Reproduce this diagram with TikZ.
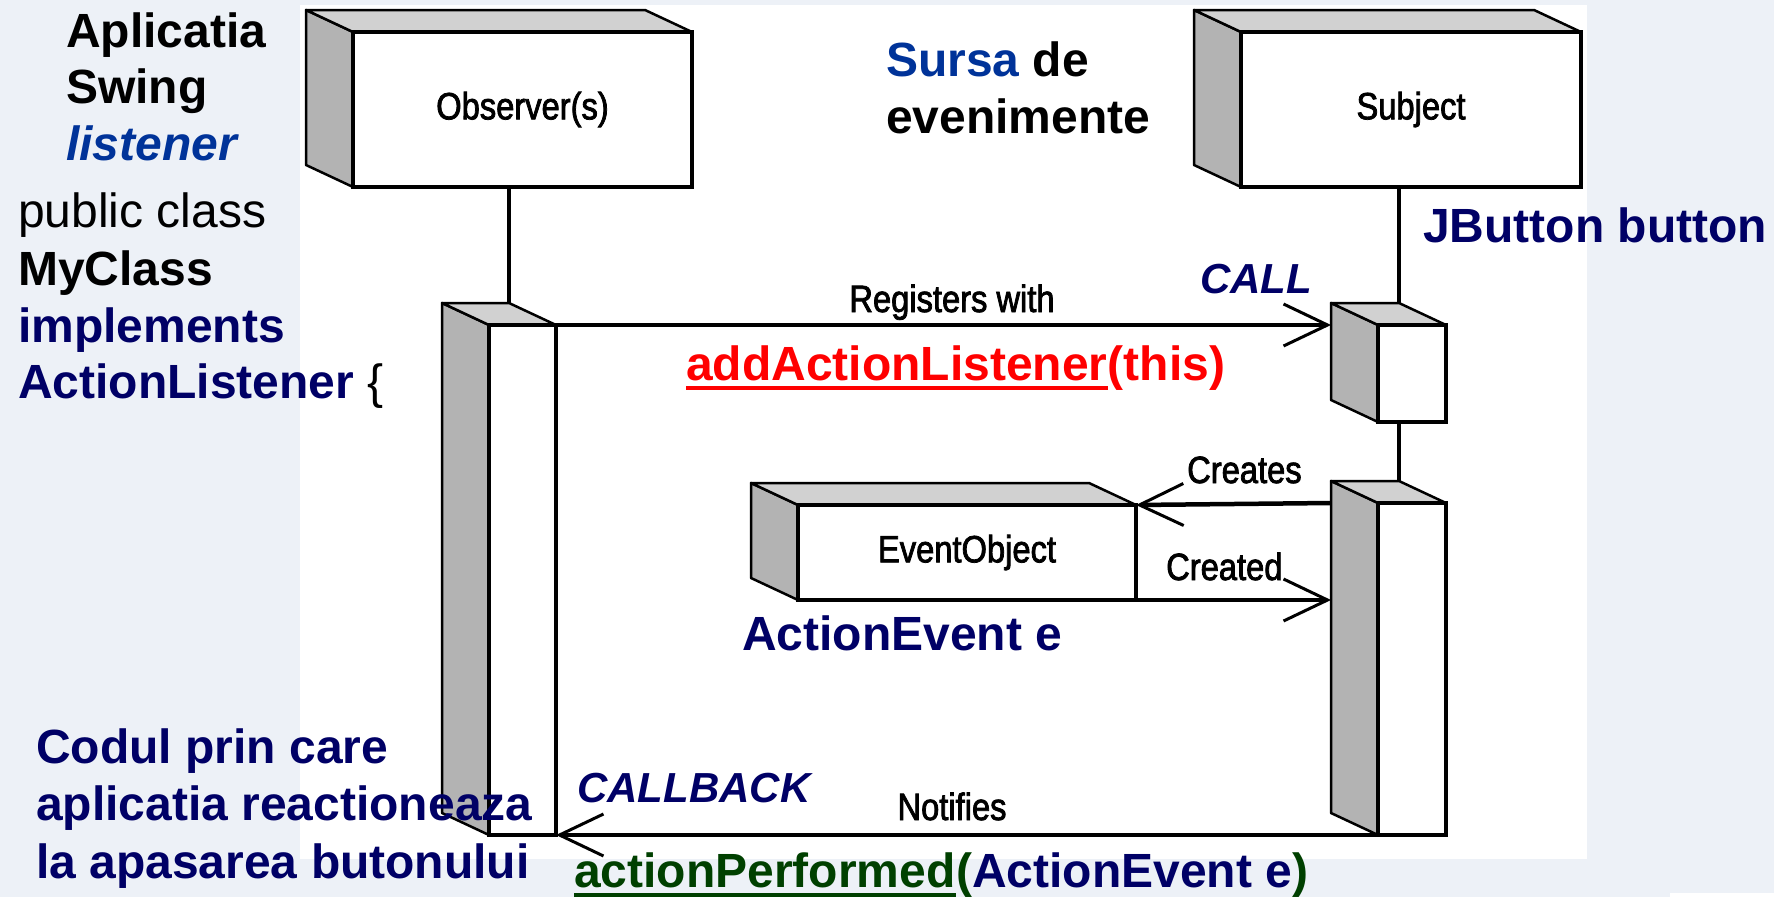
\documentclass[tikz,border=0pt]{standalone}
\usepackage{fontspec}
\setmainfont{Liberation Sans}
\newfontfamily\umlfont[FakeStretch=0.86,FakeBold=2]{Liberation Sans}
\usetikzlibrary{calc,arrows.meta}
\definecolor{bgGray}{RGB}{237,241,247}
\definecolor{navyTxt}{RGB}{0,0,102}
\definecolor{blueTxt}{RGB}{0,51,153}
\definecolor{greenTxt}{RGB}{0,64,0}
\definecolor{sideGray}{RGB}{179,179,179}
\definecolor{topGray}{RGB}{209,209,209}
\pgfdeclarelayer{background}
\pgfdeclarelayer{faces}
\pgfsetlayers{background,faces,main}
% left and top face of a box (#1 = front node)
\newcommand{\drawDepth}[1]{%
  \filldraw[sideFace] (#1.north west) -- ++(-47,-22) -- ($(#1.south west)+(-47,-22)$) -- (#1.south west) -- cycle;
  \filldraw[topFace] (#1.north west) -- ++(-47,-22) -- ($(#1.north east)+(-47,-22)$) -- (#1.north east) -- cycle;}
\begin{document}
\begin{tikzpicture}[x=1pt,y=-1pt,
  frontFace/.style={draw,line width=4pt,fill=white,inner sep=0pt,outer sep=0pt,anchor=north west,
    font=\umlfont\fontsize{38}{42}\selectfont},
  sideFace/.style={fill=sideGray,draw=black,line width=2.5pt,line join=round},
  topFace/.style={fill=topGray,draw=black,line width=2.5pt,line join=round},
  lifeLine/.style={line width=3.5pt},
  msg/.style={line width=4.5pt,-{Straight Barb[length=44pt,width=42pt,line width=3pt]}},
  umlLabel/.style={font=\umlfont\fontsize{38}{42}\selectfont,inner sep=0pt},
  bigTxt/.style={font=\fontsize{48}{57}\selectfont\bfseries,inner sep=0pt,anchor=base west},
  cueTxt/.style={font=\fontsize{42}{48}\selectfont\bfseries\itshape,text=navyTxt,inner sep=0pt,anchor=base west}]
\useasboundingbox (0,0) rectangle (1774,897);
\begin{pgfonlayer}{background}
\fill[bgGray] (0,0) rectangle (1774,897);
\fill[white] (300,5) rectangle (1587,859);
\fill[white] (1670,893) rectangle (1774,897);
\end{pgfonlayer}

%畫出方塊
\node[frontFace,minimum width=339pt,minimum height=155pt] (obsBox) at (353,32) {Observer(s)};
\node[frontFace,minimum width=340pt,minimum height=155pt] (subjBox) at (1241,32) {Subject};
\node[frontFace,minimum width=338pt,minimum height=95pt] (evBox) at (798,505) {EventObject};
\node[frontFace,minimum width=67pt,minimum height=510pt] (obsBar) at (489,325) {};
\node[frontFace,minimum width=68pt,minimum height=97pt] (callBar) at (1378,325) {};
\node[frontFace,minimum width=68pt,minimum height=332pt] (notifyBar) at (1378,503) {};
\begin{pgfonlayer}{faces}
\drawDepth{obsBox}
\drawDepth{subjBox}
\drawDepth{evBox}
\drawDepth{obsBar}
\drawDepth{callBar}
\drawDepth{notifyBar}
\end{pgfonlayer}

\coordinate (cObsTopPt) at ($(obsBar.north east)+(-47,-22)$);
\coordinate (cCallTopPt) at ($(callBar.north east)+(-47,-22)$);
\coordinate (cNotTopPt) at ($(notifyBar.north east)+(-47,-22)$);
\draw[lifeLine] (cObsTopPt) -- (cObsTopPt |- obsBox.south);
\draw[lifeLine] (cCallTopPt) -- (cCallTopPt |- subjBox.south);
\draw[lifeLine] (cNotTopPt) -- (cNotTopPt |- callBar.south);

%訊息
\coordinate (cRegPt) at ($(callBar.north west)+(-47,0)$);
\coordinate (cCreatesPt) at ($(notifyBar.north west)+(-47,0)$);
\coordinate (cCreatedPt) at ($(notifyBar.west |- evBox.south east)+(-47,0)$);
\draw[msg] (obsBar.north east) -- (cRegPt);
\draw[msg] (cCreatesPt) -- (evBox.north east);
\draw[msg] (evBox.south east) -- (cCreatedPt);
\draw[msg] (notifyBar.south west) -- (obsBar.south east);
\node[umlLabel,anchor=base] (lblReg) at (952,312) {Registers with};
\node[umlLabel,anchor=base west] (lblCreates) at (1187,483) {Creates};
\node[umlLabel,anchor=base west] (lblCreated) at (1166,580) {Created};
\node[umlLabel,anchor=base] (lblNotifies) at (952,820) {Notifies};

%說明文字
\node[bigTxt] (tApp) at (66,47) {Aplicatia};
\node[bigTxt] (tSwing) at (66,103) {Swing};
\node[bigTxt,font=\fontsize{48}{57}\selectfont\bfseries\itshape,text=blueTxt] (tListener) at (66,160) {listener};
\node[bigTxt,font=\fontsize{48}{57}\selectfont] (tPublic) at (18,227) {public class};
\node[bigTxt] (tMyClass) at (18,285) {MyClass};
\node[bigTxt,text=navyTxt] (tImpl) at (18,342) {implements};
\node[bigTxt] (tAL) at (18,398) {{\color{navyTxt}ActionListener} {\mdseries\{}};
\node[bigTxt] (tSursa) at (886,76) {{\color{blueTxt}Sursa} de};
\node[bigTxt] (tEven) at (886,133) {evenimente};
\node[bigTxt,text=navyTxt] (tJButton) at (1423,242) {JButton button};
\node[cueTxt] (tCall) at (1200,293) {CALL};
\node[bigTxt,text=red] (tAdd) at (686,380) {addActionListener};
\node[bigTxt,text=red] (tThis) at (tAdd.base east) {(this)};
\draw[red,line width=4pt] ($(tAdd.base west)+(0,8)$) -- ($(tAdd.base east)+(0,8)$);
\node[bigTxt,text=navyTxt] (tAE) at (742,650) {ActionEvent e};
\node[bigTxt,text=navyTxt] (tCodul) at (36,763) {Codul prin care};
\node[bigTxt,text=navyTxt] (tAplic) at (36,820) {aplicatia reactioneaza};
\node[bigTxt,text=navyTxt] (tLa) at (36,878) {la apasarea butonului};
\node[cueTxt] (tCallback) at (577,802) {CALLBACK};
\node[bigTxt,text=greenTxt] (tPerf) at (574,887) {actionPerformed};
\node[bigTxt,text=greenTxt] (tPerfArg) at (tPerf.base east) {({\color{navyTxt}ActionEvent e})};
\draw[greenTxt,line width=4pt] ($(tPerf.base west)+(0,8)$) -- ($(tPerf.base east)+(0,8)$);

\end{tikzpicture}
\end{document}
